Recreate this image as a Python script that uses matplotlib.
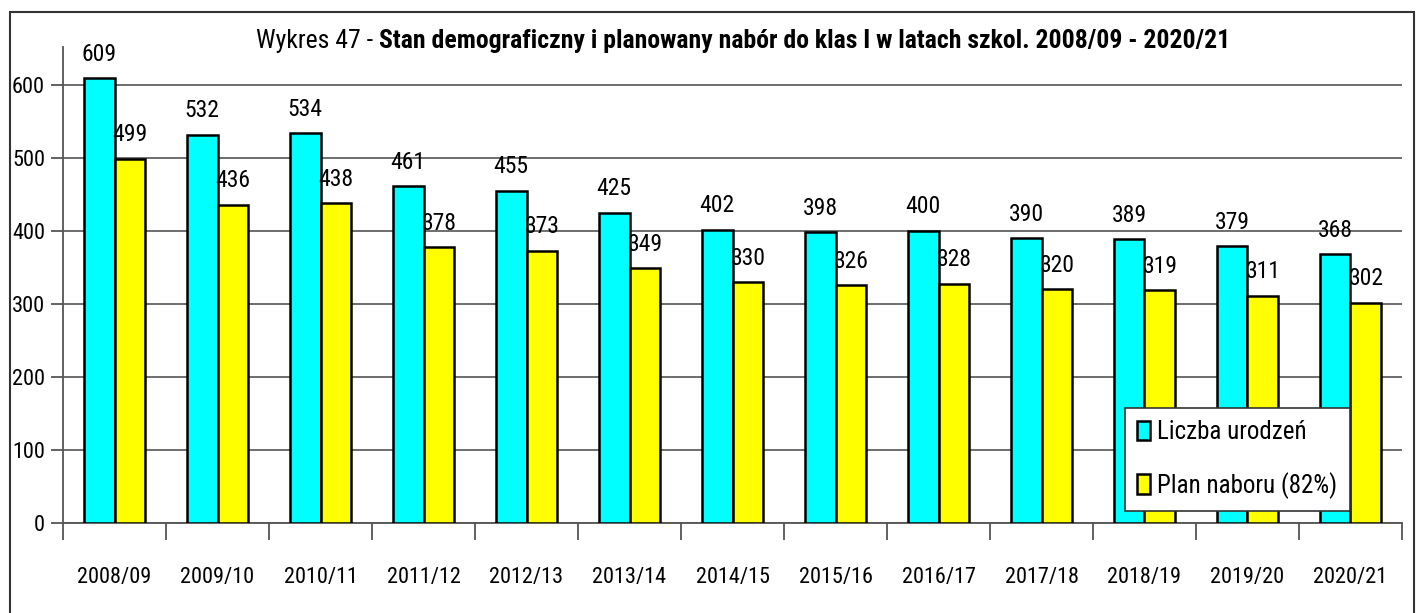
import matplotlib.pyplot as plt
import numpy as np
from matplotlib import font_manager
from matplotlib.patches import Rectangle

lata = ["2008/09", "2009/10", "2010/11", "2011/12", "2012/13", "2013/14", "2014/15",
        "2015/16", "2016/17", "2017/18", "2018/19", "2019/20", "2020/21"]
urodzenia = [609, 532, 534, 461, 455, 425, 402, 398, 400, 390, 389, 379, 368]
nabor = [499, 436, 438, 378, 373, 349, 330, 326, 328, 320, 319, 311, 302]

# waska czcionka jesli jest, inaczej Liberation Sans (metryka Ariala)
dostepne = {f.name for f in font_manager.fontManager.ttflist}
for nazwa in ['Liberation Sans Narrow', 'Roboto Condensed', 'Open Sans Condensed', 'Liberation Sans']:
    if nazwa in dostepne:
        break
plt.rcParams['font.family'] = [nazwa, 'DejaVu Sans']

fig = plt.figure(figsize=(14.17, 6.13), dpi=100)
ax = fig.add_axes([0.0445, 0.1468, 0.9449, 0.7765])

x = np.arange(len(lata))
w = 0.30
b1 = ax.bar(x - w / 2, urodzenia, w, color='#00ffff', edgecolor='black', linewidth=1.8,
            label='Liczba urodzeń', zorder=3)
b2 = ax.bar(x + w / 2, nabor, w, color='#ffff00', edgecolor='black', linewidth=1.8,
            label='Plan naboru (82%)', zorder=3)

# etykiety z wartosciami nad slupkami
for bars, vals in ((b1, urodzenia), (b2, nabor)):
    for r, v in zip(bars, vals):
        ax.annotate(str(v), (r.get_x() + r.get_width() / 2, v), xytext=(0, 9),
                    textcoords='offset points', ha='center', va='bottom', fontsize=17)

ax.set_xlim(-0.5, len(lata) - 0.5)
ax.set_ylim(0, 652)
ax.set_yticks(range(0, 601, 100))
ax.yaxis.grid(True, color='#555555', linewidth=1.2, zorder=0)
ax.set_xticks(x)
ax.set_xticklabels(lata, fontsize=16)
ax.tick_params(axis='x', length=0, pad=32)
ax.set_xticks(np.arange(-0.5, len(lata)), minor=True)
ax.tick_params(axis='x', which='minor', length=12, width=1.3, color='#555555', direction='out')
ax.tick_params(axis='y', labelsize=16, length=9, width=1.3, color='#555555', pad=4)

for s in ('top', 'right'):
    ax.spines[s].set_visible(False)
for s in ('left', 'bottom'):
    ax.spines[s].set_color('#555555')
    ax.spines[s].set_linewidth(1.3)

leg = ax.legend(loc='lower left', bbox_to_anchor=(0.793, 0.025), fontsize=18,
                frameon=True, fancybox=False, edgecolor='#333333', framealpha=1,
                handlelength=0.5, handleheight=0.8, handletextpad=0.3,
                labelspacing=1.1, borderpad=0.5, borderaxespad=0)
leg.get_frame().set_linewidth(1.2)

t1 = fig.text(0.181, 0.933, "Wykres 47 - ", fontsize=18.5, ha='left', va='center')
ax.annotate("Stan demograficzny i planowany nabór do klas I w latach szkol. 2008/09 - 2020/21",
            xy=(1, 0.5), xycoords=t1, fontsize=18.5, fontweight='bold', ha='left', va='center')

# ramka wokol calego wykresu
fig.patches.append(Rectangle((0.007, -0.01), 0.991, 0.99, transform=fig.transFigure,
                             fill=False, edgecolor='#333333', linewidth=1.5))

fig.savefig("out.png", dpi=100)
